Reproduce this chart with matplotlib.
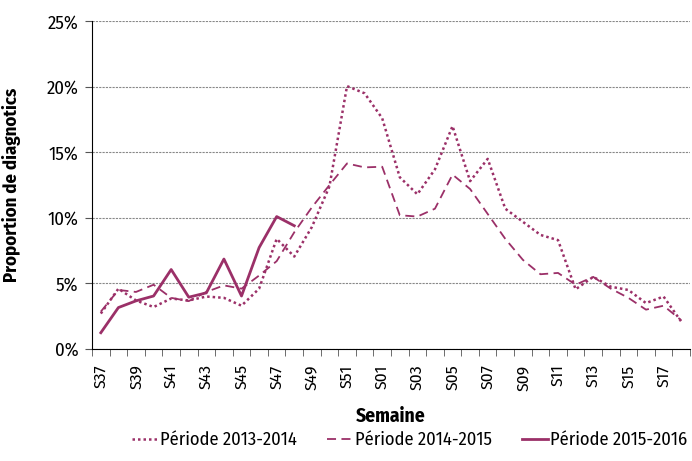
import matplotlib
matplotlib.use('Agg')
import matplotlib.pyplot as plt
from matplotlib import font_manager
from matplotlib.ticker import FuncFormatter

# police étroite si disponible, sinon DejaVu Sans
dispo = {f.name for f in font_manager.fontManager.ttflist}
police = next((p for p in ['Fira Sans Condensed', 'Roboto Condensed', 'PT Sans Narrow',
                           'Open Sans Condensed', 'Liberation Sans Narrow']
               if p in dispo), 'DejaVu Sans')
plt.rcParams['font.family'] = [police, 'DejaVu Sans']

semaines = [f'S{w:02d}' for w in range(37, 53)] + [f'S{w:02d}' for w in range(1, 19)]

# proportion de diagnostics (%) par semaine
p2013_2014 = [2.7, 4.6, 3.7, 3.2, 3.85, 3.7, 4.0, 3.9, 3.3, 4.6, 8.4, 7.05,
              9.3, 12.4, 20.05, 19.5, 17.6, 13.1, 11.8, 13.7, 17.0, 12.8,
              14.5, 10.7, 9.7, 8.7, 8.3, 4.55, 5.5, 4.75, 4.5, 3.5, 4.0, 2.1]
p2014_2015 = [2.85, 4.5, 4.35, 4.9, 3.9, 3.65, 4.35, 4.85, 4.6, 5.6, 6.7, 8.9,
              10.8, 12.5, 14.15, 13.85, 13.9, 10.2, 10.1, 10.7, 13.3, 12.2,
              10.3, 8.4, 6.8, 5.7, 5.8, 4.9, 5.5, 4.6, 3.9, 3.0, 3.3, 2.2]
p2015_2016 = [1.24, 3.16, 3.67, 4.04, 6.06, 3.95, 4.28, 6.86, 4.04, 7.73, 10.1, 9.4]

couleur = '#9b3068'

fig = plt.figure(figsize=(6.92, 4.61), dpi=100)
ax = fig.add_axes([0.133, 0.243, 0.864, 0.711])

x = list(range(len(semaines)))
ax.plot(x, p2013_2014, color=couleur, lw=1.8, linestyle=(0, (1, 1.2)), label='Période 2013-2014')
ax.plot(x, p2014_2015, color=couleur, lw=1.3, linestyle=(0, (5, 3)), label='Période 2014-2015')
ax.plot(x[:len(p2015_2016)], p2015_2016, color=couleur, lw=2, label='Période 2015-2016')

ax.set_xlim(-0.5, len(semaines) - 0.5)
ax.set_ylim(0, 25)
ax.set_yticks([0, 5, 10, 15, 20, 25])
ax.yaxis.set_major_formatter(FuncFormatter(lambda v, p: f'{v:.0f}%'))
ax.grid(axis='y', color='#888888', linestyle=(0, (2, 1)), lw=0.8)
ax.set_axisbelow(True)

ax.set_xticks(x[::2])
ax.set_xticklabels(semaines[::2], rotation=90)
ax.set_xticks([i - 0.5 for i in range(len(semaines) + 1)], minor=True)
ax.tick_params(axis='x', which='major', length=0, labelsize=12.5, pad=11)
ax.tick_params(axis='x', which='minor', length=5, color='#555555')
ax.tick_params(axis='y', length=5, labelsize=13.5, color='#555555', pad=5)

for s in ['top', 'right']:
    ax.spines[s].set_visible(False)

ax.set_xlabel('Semaine', fontsize=14, fontweight='bold')
ax.xaxis.set_label_coords(0.5, -0.175)
ax.set_ylabel('Proportion de diagnotics', fontsize=13.5, fontweight='bold')
ax.yaxis.set_label_coords(-0.118, 0.5)

fig.legend(loc='center', bbox_to_anchor=(0.592, 0.046), ncol=3, frameon=False,
           fontsize=13.3, handlelength=1.4, handletextpad=0.15, columnspacing=1.6)

fig.savefig('out.png', dpi=100)
